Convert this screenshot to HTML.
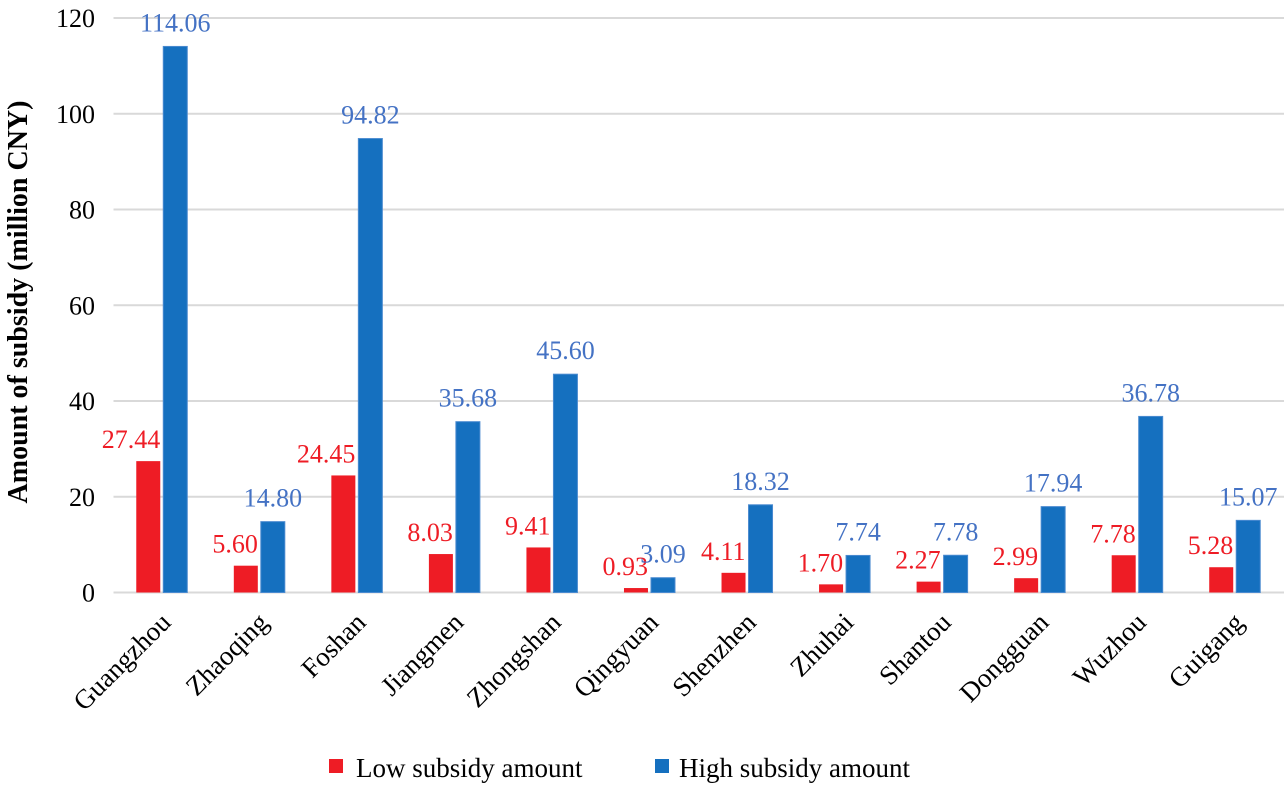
<!DOCTYPE html>
<html><head><meta charset="utf-8"><style>
body{margin:0;background:#fff}
svg text{font-family:"Liberation Serif",serif}
</style></head><body>
<svg id="c" width="1287" height="784"></svg>
<script>
const categories=["Guangzhou","Zhaoqing","Foshan","Jiangmen","Zhongshan","Qingyuan","Shenzhen","Zhuhai","Shantou","Dongguan","Wuzhou","Guigang"];
const lowValues=[27.44,5.60,24.45,8.03,9.41,0.93,4.11,1.70,2.27,2.99,7.78,5.28];
const highValues=[114.06,14.80,94.82,35.68,45.60,3.09,18.32,7.74,7.78,17.94,36.78,15.07];
const yTicks=[0,20,40,60,80,100,120];
const NS="http://www.w3.org/2000/svg";
const svg=document.getElementById('c');
const left=113.5,right=1284,y0=592.5,y120=18;
const y=v=>y0-(v/120)*(y0-y120);
const gw=(right-left)/categories.length;
const gx=i=>left+gw*(i+0.5);
function mk(t,a,txt){const e=document.createElementNS(NS,t);for(const k in a)e.setAttribute(k,a[k]);if(txt!==undefined)e.textContent=txt;svg.appendChild(e);return e;}
yTicks.forEach(t=>{
 const l=mk('line',{x1:left,x2:right,y1:y(t),y2:y(t),stroke:'#d9d9d9','stroke-width':2});
 
 
 const tx=mk('text',{x:95,y:y(t)+9,'text-anchor':'end','font-size':26,fill:'#000'},t);
 
 
});
const yt=mk('text',{x:0,y:0,'font-size':28,'font-weight':'bold','text-anchor':'middle',transform:'translate(27,302) rotate(-90)'},'Amount of subsidy (million CNY)');


const bw=24;
categories.forEach((c,i)=>{
 const cx=gx(i);
 const r=mk('rect',{x:cx-26,y:y(lowValues[i]),width:bw,height:y0-y(lowValues[i]),fill:'#ee1c25'});
 
 
 const b=mk('rect',{x:cx+1,y:y(highValues[i]),width:bw,height:y0-y(highValues[i]),fill:'#1570bf',stroke:'#4a8ad0','stroke-width':1});
 
 
 const lt=mk('text',{x:cx-2,y:y(lowValues[i])-13,'text-anchor':'end','font-size':26,fill:'#ee1c25'},lowValues[i].toFixed(2));
 
 
 const ht=mk('text',{x:cx+13,y:y(highValues[i])-15,'text-anchor':'middle','font-size':26,fill:'#4472c4'},highValues[i].toFixed(2));
 
 
 const xl=mk('text',{x:0,y:0,'text-anchor':'end','font-size':27,fill:'#000',transform:`translate(${cx+10},${624}) rotate(-45)`},c);
 
 
});
const l1=mk('rect',{x:329,y:759,width:14,height:14,fill:'#ee1c25'});


const l1t=mk('text',{x:356,y:777,'font-size':27},'Low subsidy amount');


const l2=mk('rect',{x:655,y:759,width:14,height:14,fill:'#1570bf'});


const l2t=mk('text',{x:679,y:777,'font-size':27},'High subsidy amount');


</script>
</body></html>
